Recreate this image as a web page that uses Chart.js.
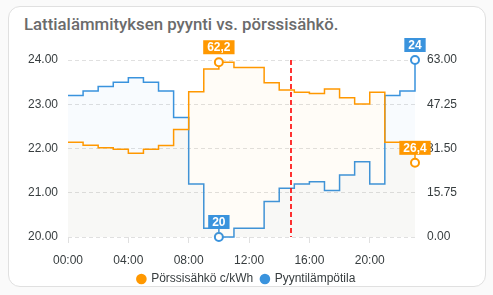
<!DOCTYPE html>
<html>
<head>
<meta charset="utf-8">
<script src="https://cdn.jsdelivr.net/npm/chart.js@4"></script>
<style>
    html, body { margin: 0; padding: 0; background: #fafafa; }
    body { width: 493px; height: 295px; position: relative; overflow: hidden; }
    .card {
        position: absolute; left: 8px; top: 6px; width: 476px; height: 279px;
        background: #fff; border: 1px solid #e0e0e0; border-radius: 12px;
    }
    .title {
        position: absolute; left: 24px; top: 14px;
        font-family: Roboto, sans-serif; font-weight: 500; font-size: 16.8px; color: #6b6b6b;
    }
    .wrap { position: absolute; left: 0; top: 0; width: 493px; height: 295px; }
</style>
</head>
<body>
<div class="card"></div>
<div class="title">Lattialämmityksen pyynti vs. pörssisähkö.</div>
<div class="wrap"><canvas id="heatChart"></canvas></div>
<script>
// hours of the day (x axis)
const hours = [0, 1, 2, 3, 4, 5, 6, 7, 8, 9, 10, 11, 12, 13, 14, 15, 16, 17, 18, 19, 20, 21, 22, 23];
// spot price c/kWh (right axis)
const price_data = [33.7, 32.7, 31.8, 31.2, 29.8, 31.2, 32.6, 38.3, 51.7, 59.8, 62.2, 60.3,
                    60.3, 54.9, 52.3, 51.5, 51.1, 52.7, 49.6, 47.3, 51.5, 33.7, 33.7, 26.4];
// requested floor temperature (left axis)
const request_data = [23.2, 23.3, 23.4, 23.5, 23.6, 23.5, 23.3, 22.7, 21.2, 20.2, 20.0, 20.2,
                      20.2, 20.8, 21.1, 21.2, 21.25, 21.05, 21.4, 21.7, 21.2, 23.2, 23.3, 24.0];
const left_ticks = [20, 21, 22, 23, 24];
const right_ticks = [0, 15.75, 31.5, 47.25, 63];
const now_hour = 14.77;

const price_marks = [10, 23];
const request_marks = [10, 23];

const orange = '#ff9800';
const blue = '#3a93dd';
const fontFamily = "'Liberation Sans', Arial, sans-serif";

function hourLabel(h) {
    return (h < 10 ? '0' : '') + h + ':00';
}

// boxed value labels above marked points
const valueLabels = {
    id: 'valueLabels',
    afterDatasetsDraw(chart) {
        const ctx = chart.ctx;
        ctx.save();
        ctx.font = 'bold 12px ' + fontFamily;
        ctx.textAlign = 'center';
        ctx.textBaseline = 'middle';
        chart.data.datasets.forEach((ds, i) => {
            const meta = chart.getDatasetMeta(i);
            for (const idx of ds.marks) {
                const pt = meta.data[idx];
                const text = String(ds.data[idx].y).replace('.', ',');
                const w = ctx.measureText(text).width + 8;
                const h = 14;
                const bottom = pt.y - 8;
                ctx.fillStyle = ds.borderColor;
                ctx.fillRect(pt.x - w / 2, bottom - h, w, h);
                ctx.fillStyle = '#fff';
                ctx.fillText(text, pt.x, bottom - h / 2 + 0.5);
            }
        });
        ctx.restore();
    }
};

// red dashed "now" line
const nowLine = {
    id: 'nowLine',
    afterDatasetsDraw(chart) {
        const ctx = chart.ctx;
        const x = Math.round(chart.scales.x.getPixelForValue(now_hour));
        ctx.save();
        ctx.strokeStyle = 'rgb(255, 0, 0)';
        ctx.lineWidth = 1.6;
        ctx.setLineDash([5, 3]);
        ctx.beginPath();
        ctx.moveTo(x, chart.chartArea.top);
        ctx.lineTo(x, chart.chartArea.bottom);
        ctx.stroke();
        ctx.restore();
    }
};

function markRadius(marks) {
    return ctx => marks.includes(ctx.dataIndex) ? 4 : 0;
}

let heatChart;

function createChart() {
    const ctx = document.getElementById('heatChart').getContext('2d');

    heatChart = new Chart(ctx, {
        type: 'line',
        data: {
            datasets: [
                {
                    label: 'Pörssisähkö c/kWh',
                    data: hours.map((h, i) => ({ x: h, y: price_data[i] })),
                    yAxisID: 'y1',
                    marks: price_marks,
                    borderColor: orange,
                    backgroundColor: 'rgba(255, 152, 0, 0.03)',
                    borderWidth: 1.5,
                    stepped: true,
                    fill: 'start',
                    clip: false,
                    pointRadius: markRadius(price_marks),
                    pointBorderWidth: 2,
                    pointBorderColor: orange,
                    pointBackgroundColor: '#fff'
                },
                {
                    label: 'Pyyntilämpötila',
                    data: hours.map((h, i) => ({ x: h, y: request_data[i] })),
                    yAxisID: 'y',
                    marks: request_marks,
                    borderColor: blue,
                    backgroundColor: 'rgba(60, 150, 225, 0.035)',
                    borderWidth: 1.5,
                    stepped: true,
                    fill: 'start',
                    clip: false,
                    pointRadius: markRadius(request_marks),
                    pointBorderWidth: 2,
                    pointBorderColor: blue,
                    pointBackgroundColor: '#fff'
                }
            ]
        },
        options: {
            responsive: true,
            maintainAspectRatio: false,
            animation: false,
            layout: {
                padding: { top: 60, left: 0, right: 0, bottom: 0 }
            },
            plugins: {
                tooltip: { enabled: false },
                legend: {
                    display: true,
                    position: 'bottom',
                    labels: {
                        usePointStyle: true,
                        pointStyle: 'circle',
                        boxWidth: 7.5,
                        boxHeight: 7.5,
                        padding: 8,
                        color: '#373d3f',
                        font: { size: 12, family: fontFamily },
                        generateLabels: function (chart) {
                            const items = Chart.defaults.plugins.legend.labels.generateLabels(chart);
                            items.forEach((it, i) => {
                                it.fillStyle = chart.data.datasets[i].borderColor;
                                it.strokeStyle = chart.data.datasets[i].borderColor;
                                it.lineWidth = 0;
                            });
                            return items;
                        }
                    }
                }
            },
            scales: {
                x: {
                    type: 'linear',
                    min: hours[0],
                    max: hours[hours.length - 1],
                    afterFit: scale => { scale.height = 28; },
                    ticks: {
                        stepSize: 4,
                        includeBounds: false,
                        maxRotation: 0,
                        color: '#373d3f',
                        padding: 10,
                        font: { size: 12, family: fontFamily },
                        callback: v => hourLabel(v)
                    },
                    grid: {
                        drawOnChartArea: false,
                        drawTicks: true,
                        tickLength: 6,
                        tickColor: '#e0e0e0'
                    },
                    border: { display: false }
                },
                y: {
                    position: 'left',
                    min: left_ticks[0],
                    max: left_ticks[left_ticks.length - 1],
                    afterBuildTicks: scale => { scale.ticks = left_ticks.map(v => ({ value: v })); },
                    afterFit: scale => { scale.width = 68; },
                    ticks: {
                        color: '#373d3f',
                        padding: 10,
                        font: { size: 12, family: fontFamily },
                        callback: v => v.toFixed(2)
                    },
                    grid: {
                        color: '#e0e0e0',
                        drawTicks: false
                    },
                    border: { display: false, dash: [4, 3] }
                },
                y1: {
                    position: 'right',
                    min: right_ticks[0],
                    max: right_ticks[right_ticks.length - 1],
                    afterBuildTicks: scale => { scale.ticks = right_ticks.map(v => ({ value: v })); },
                    afterFit: scale => { scale.width = 78; },
                    ticks: {
                        color: '#373d3f',
                        padding: 12,
                        font: { size: 12, family: fontFamily },
                        callback: v => v.toFixed(2)
                    },
                    grid: {
                        drawOnChartArea: false,
                        drawTicks: false
                    },
                    border: { display: false }
                }
            }
        },
        plugins: [nowLine, valueLabels]
    });
}

createChart();
</script>
</body>
</html>
